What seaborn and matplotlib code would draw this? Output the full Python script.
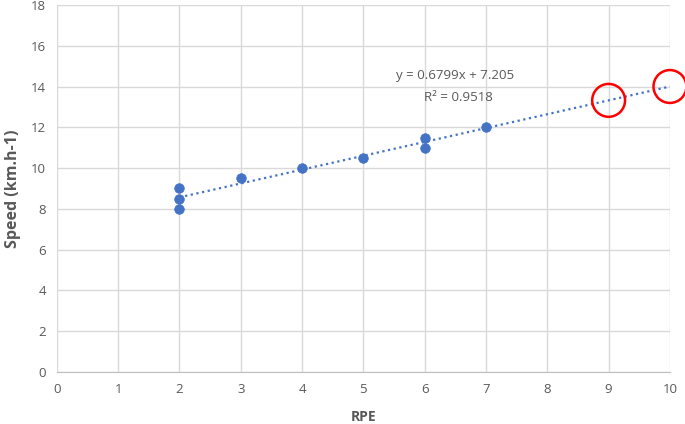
import numpy as np
import pandas as pd
import matplotlib
matplotlib.use("Agg")
import matplotlib.pyplot as plt
import seaborn as sns

# data
rpe = [2, 2, 2, 3, 4, 5, 6, 6, 7]
speed = [8, 8.5, 9, 9.5, 10, 10.5, 11, 11.5, 12]

# trendline as reported on the chart
slope = 0.6799
intercept = 7.205
r2 = 0.9518
trend_x = [2, 10]
circled_x = [9, 10]

sns.set_style("white")
plt.rcParams["font.family"] = ["Open Sans", "DejaVu Sans"]

fig = plt.figure(figsize=(6.85, 4.24), dpi=100)
ax = fig.add_axes([0.083, 0.123, 0.895, 0.865])

blue = "#4472C4"
grid = "#d9d9d9"
text_grey = "#595959"

# dotted linear trendline
tx = np.array(trend_x, dtype=float)
sns.lineplot(x=tx, y=slope * tx + intercept, ax=ax, color=blue,
             linestyle=(0, (1, 1.6)), linewidth=1.6, zorder=2)

# observations
df = pd.DataFrame({"RPE": rpe, "Speed": speed})
sns.scatterplot(data=df, x="RPE", y="Speed", ax=ax, color=blue, s=48,
                edgecolor=blue, linewidth=0.5, zorder=3)

# red circles on predicted values
cx = np.array(circled_x, dtype=float)
ax.scatter(cx, slope * cx + intercept, s=560, facecolors="none",
           edgecolors="#ff0000", linewidths=1.8, zorder=4, clip_on=False)

# equation label
ax.text(6.5, 14.55, f"y = {slope}x + {intercept}", ha="center", va="center",
        fontsize=9.5, color=text_grey)
ax.text(6.55, 13.45, f"R² = {r2}", ha="center", va="center",
        fontsize=9.5, color=text_grey)

ax.set_xlim(0, 10)
ax.set_ylim(0, 18)
ax.set_xticks(range(0, 11))
ax.set_yticks(range(0, 19, 2))
ax.grid(True, color=grid, linewidth=1)
ax.set_axisbelow(True)
for side in ["top", "right", "left"]:
    ax.spines[side].set_visible(False)
ax.spines["bottom"].set_color("#bfbfbf")
ax.tick_params(axis="both", length=0, labelsize=9.5, colors=text_grey, pad=8)

ax.set_xlabel("RPE", fontsize=10, fontweight="bold", color=text_grey, labelpad=10)
ax.set_ylabel("Speed (km.h-1)", fontsize=11.5, fontweight="bold", color=text_grey, labelpad=7)

fig.savefig("out.png", dpi=100)
